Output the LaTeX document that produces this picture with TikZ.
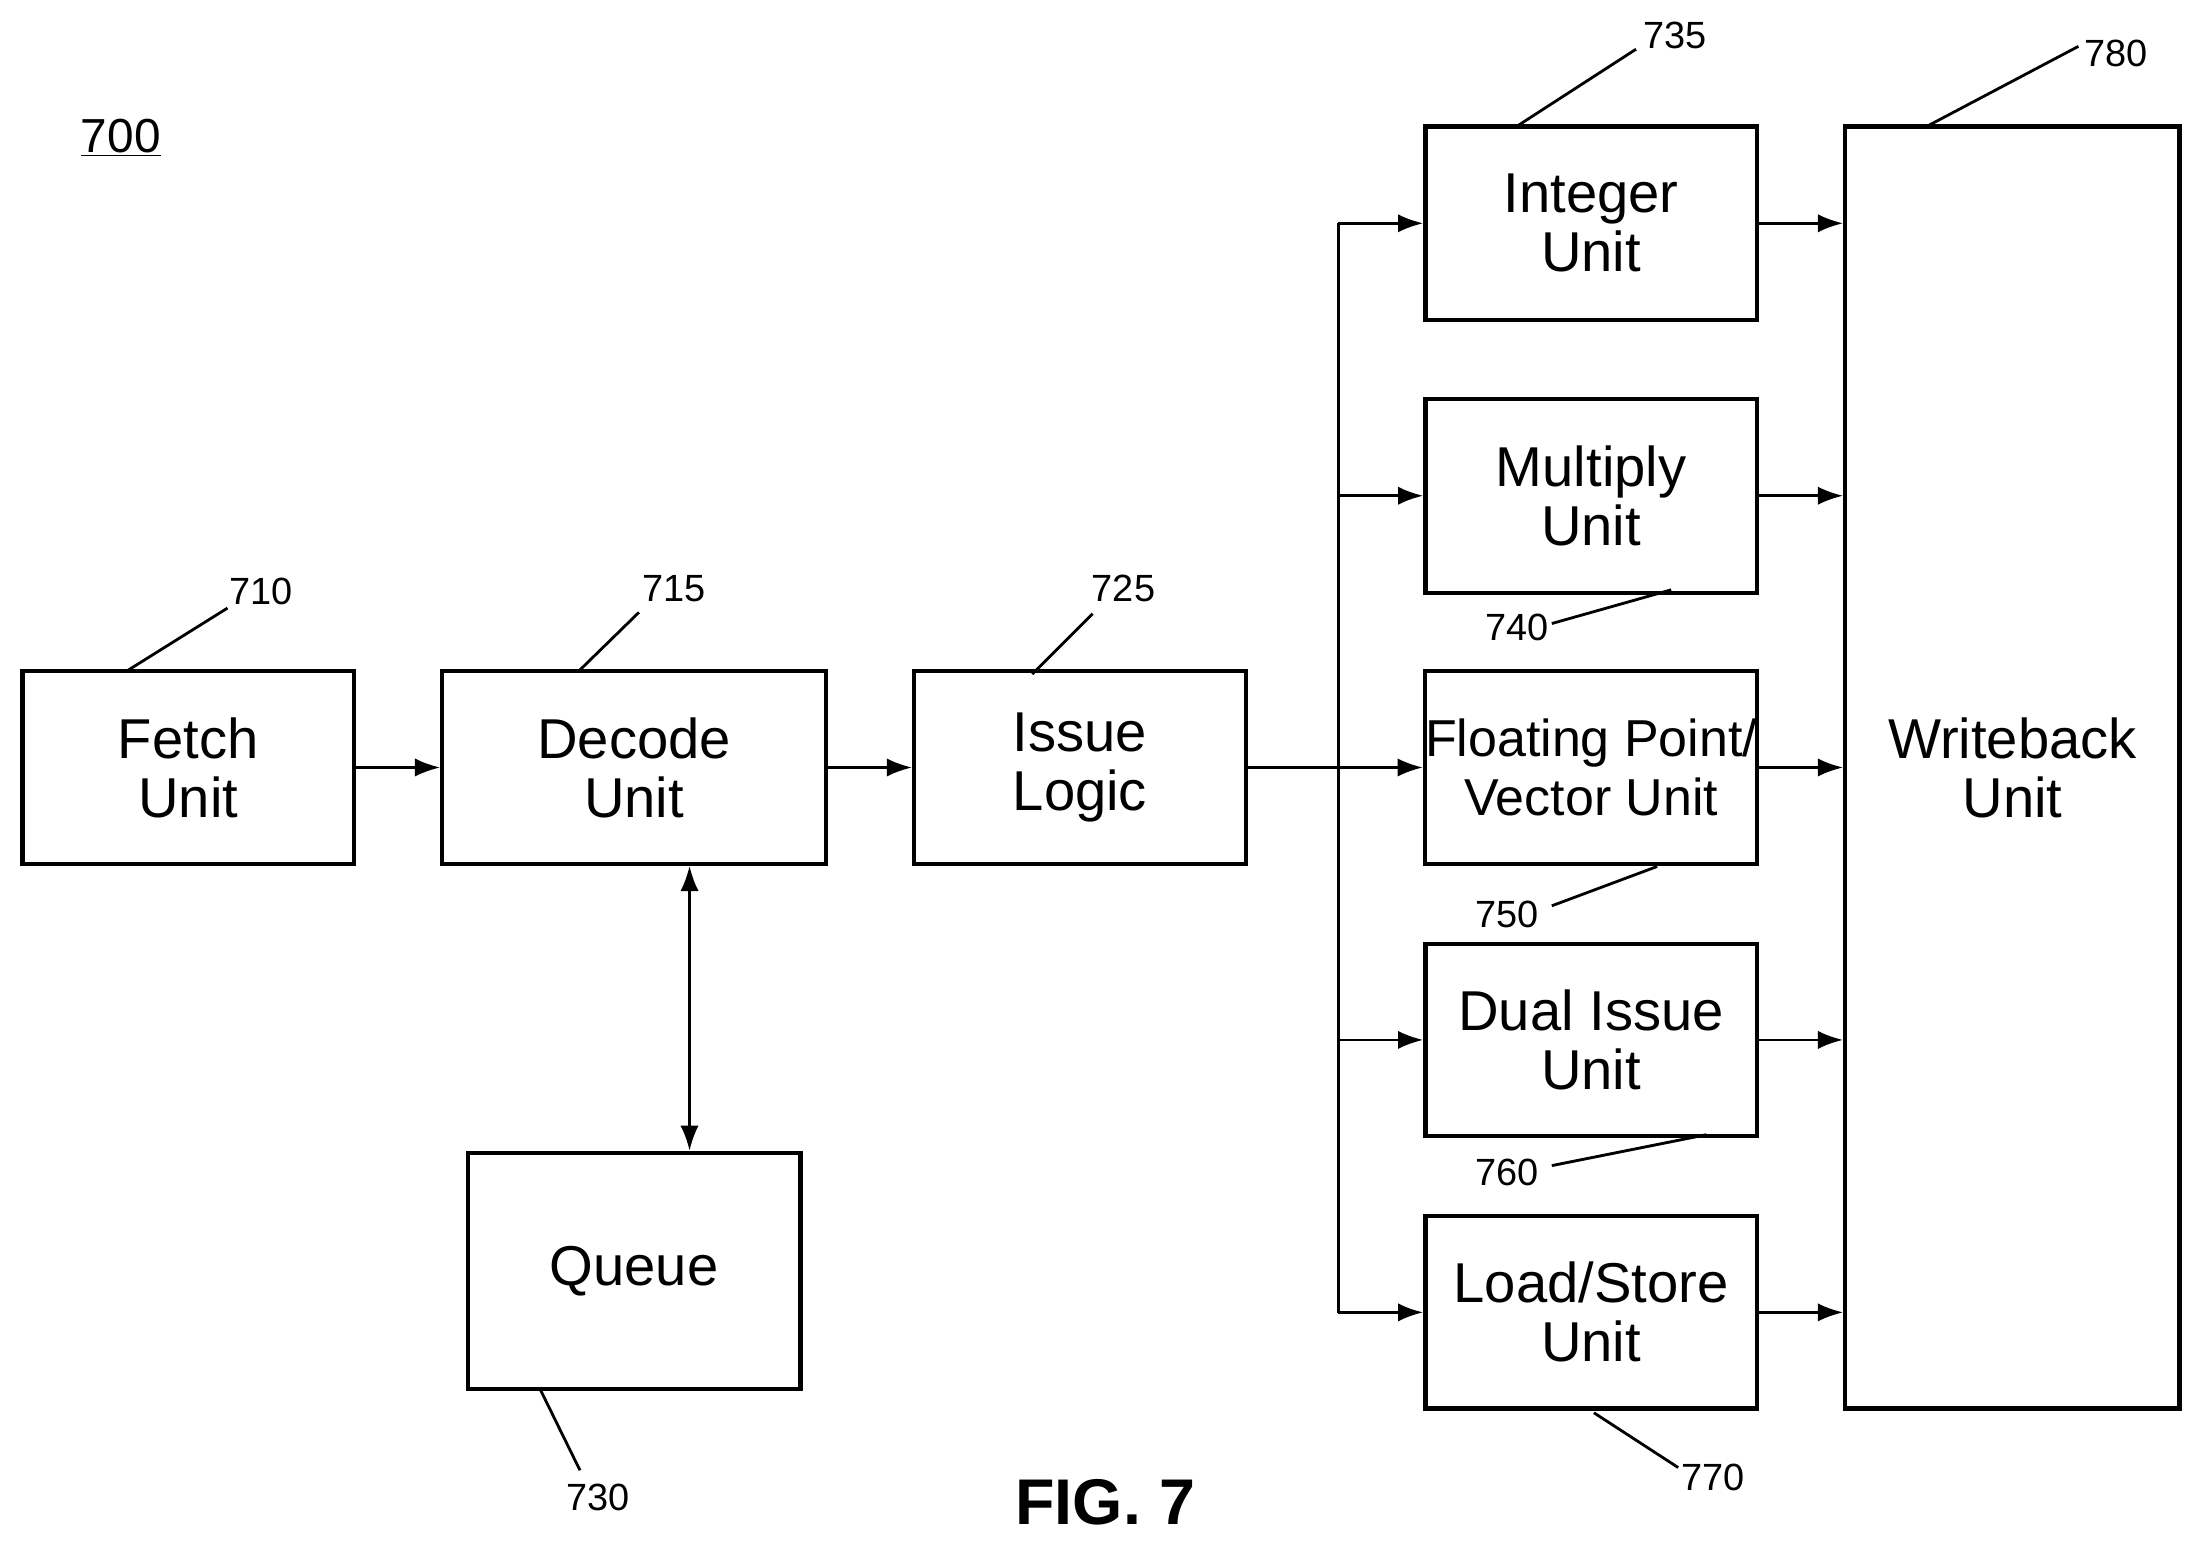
\documentclass[tikz,border=0pt]{standalone}
\usepackage{fontspec}
\setmainfont{Liberation Sans}
\usetikzlibrary{arrows.meta}
\begin{document}
\begin{tikzpicture}[x=1pt,y=-1pt,
 box/.style={draw,line width=3pt,align=center,font=\fontsize{40}{42}\selectfont,inner sep=0pt},
 arr/.style={line width=2pt,-{Latex[length=18pt,width=13pt]}},
 lead/.style={line width=2pt},
 lab/.style={font=\fontsize{27}{30}\selectfont,inner sep=1pt}]
\useasboundingbox (0,0) rectangle (1568,1103);
\newcommand{\bx}[6]{\node[box,minimum width=#4-#2,minimum height=#5-#3] (#1) at ({(#2+#4)/2},{(#3+#5)/2}) {#6};}
\bx{fetch}{16}{478}{252}{615}{Fetch\\Unit}
\bx{decode}{315}{478}{588}{615}{Decode\\Unit}
\bx{issue}{651}{478}{887}{615}{Issue\\Logic}
\bx{queue}{333}{821}{570}{989}{Queue}
\bx{int}{1015}{90}{1251}{228}{Integer\\Unit}
\bx{mul}{1015}{284}{1251}{422}{Multiply\\Unit}
\bx{fp}{1015}{478}{1251}{615}{\fontsize{37}{40}\selectfont Floating Point/\\\fontsize{37}{40}\selectfont Vector Unit}
\bx{dual}{1015}{672}{1251}{809}{Dual Issue\\Unit}
\bx{ls}{1015}{866}{1251}{1003}{Load/Store\\Unit}
\bx{wb}{1314}{90}{1552}{1003}{Writeback\\Unit}
\draw[arr] (fetch) -- (decode);
\draw[arr] (decode) -- (issue);
\draw[arr] (issue) -- (fp);
\draw[line width=2pt,{Latex[length=18pt,width=13pt]}-{Latex[length=18pt,width=13pt]}] (decode.south -| 491,0) -- (queue.north -| 491,0);
\coordinate (bt) at (953,159); \coordinate (bb) at (953,935);
\draw[line width=2pt] (bt) -- (bb);
\foreach \n in {int,mul,dual,ls}{\draw[arr] (bt |- \n) -- (\n);}
\foreach \n in {int,mul,fp,dual,ls}{\draw[arr] (\n) -- (wb.west |- \n);}
\node[lab,font=\fontsize{34}{36}\selectfont] (l700) at (86,98) {\underline{700}};
\node[lab] (l710) at (186,421) {710}; \draw[lead] (90,478) -- (162,433);
\node[lab] (l715) at (480,419) {715}; \draw[lead] (412,478) -- (455,436);
\node[lab] (l725) at (800,419) {725}; \draw[lead] (735,480) -- (778,437);
\node[lab] (l735) at (1193,25) {735}; \draw[lead] (1080,90) -- (1165,35);
\node[lab] (l780) at (1507,38) {780}; \draw[lead] (1372,90) -- (1480,33);
\node[lab] (l740) at (1080,447) {740}; \draw[lead] (1105,444) -- (1190,420);
\node[lab] (l750) at (1073,651) {750}; \draw[lead] (1105,645) -- (1180,617);
\node[lab] (l760) at (1073,835) {760}; \draw[lead] (1105,830) -- (1215,808);
\node[lab] (l770) at (1220,1052) {770}; \draw[lead] (1135,1006) -- (1195,1045);
\node[lab] (l730) at (426,1066) {730}; \draw[lead] (385,990) -- (413,1047);
\node[font=\fontsize{46}{48}\selectfont\bfseries] (fig) at (787,1070) {FIG. 7};
\end{tikzpicture}
\end{document}
